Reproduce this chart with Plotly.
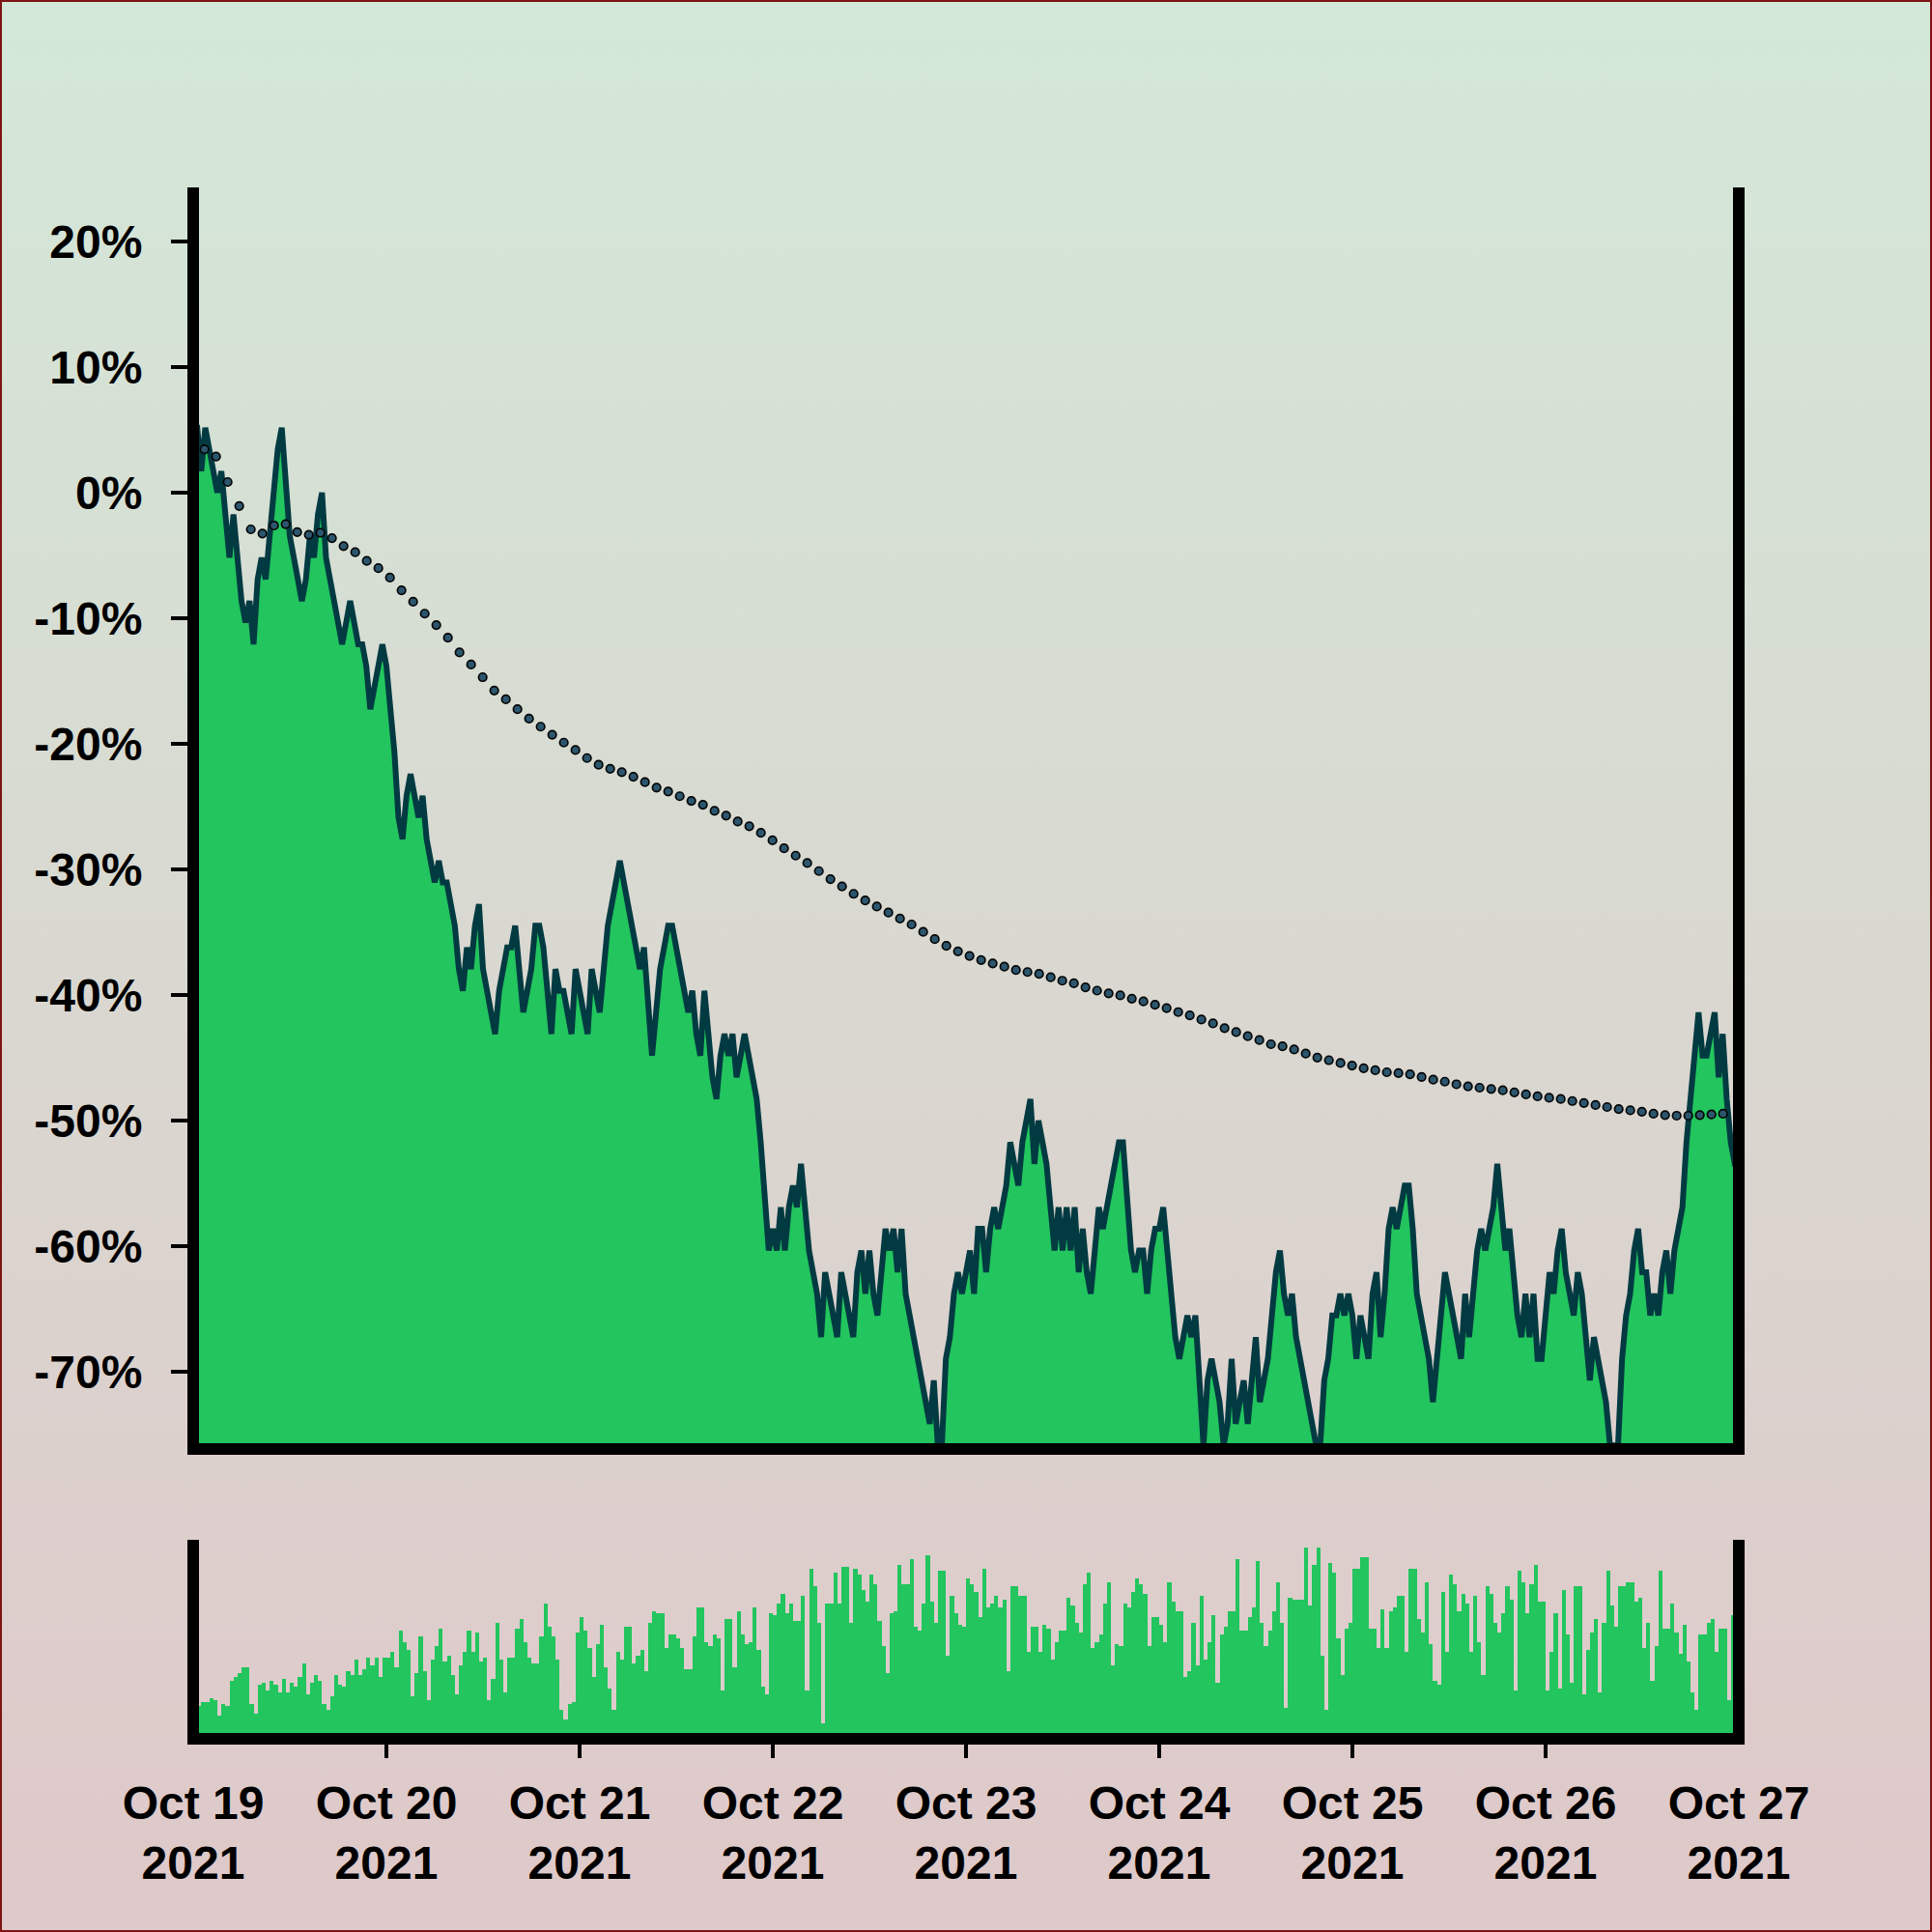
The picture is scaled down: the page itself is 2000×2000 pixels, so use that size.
import base64
import pandas as pd
import plotly.graph_objects as go

# ---------------- data ----------------
PRICE_START = "2021-10-19 00:00"
PRICE_STEP = "30min"
# price change in % at every half hour, Oct 19 00:00 -> Oct 27 00:00
PRICE_PCT = [
    5.17, 5.17, 1.72, 5.17, 3.45, 1.72, 0.0, 1.72, -1.72, -5.17, -1.72, -5.17, -8.62, -10.34, -8.62, -12.07,
    -6.90, -5.17, -6.90, -3.45, 0.0, 3.45, 5.17, 0.0, -3.45, -5.17, -6.90, -8.62, -6.90, -3.45, -5.17, -1.72,
    0.0, -5.17, -6.90, -8.62, -10.34, -12.07, -10.34, -8.62, -10.34, -12.07, -12.07, -13.79, -17.24, -15.52, -13.79, -12.07,
    -13.79, -17.24, -20.69, -25.86, -27.59, -24.14, -22.41, -24.14, -25.86, -24.14, -27.59, -29.31, -31.03, -29.31, -31.03, -31.03,
    -32.76, -34.48, -37.93, -39.66, -36.21, -37.93, -34.48, -32.76, -37.93, -39.66, -41.38, -43.10, -39.66, -37.93, -36.21, -36.21,
    -34.48, -37.93, -41.38, -39.66, -37.93, -34.48, -34.48, -36.21, -39.66, -43.10, -37.93, -39.66, -39.66, -41.38, -43.10, -37.93,
    -39.66, -41.38, -43.10, -37.93, -39.66, -41.38, -37.93, -34.48, -32.76, -31.03, -29.31, -31.03, -32.76, -34.48, -36.21, -37.93,
    -36.21, -41.38, -44.83, -41.38, -37.93, -36.21, -34.48, -34.48, -36.21, -37.93, -39.66, -41.38, -39.66, -43.10, -44.83, -39.66,
    -43.10, -46.55, -48.28, -44.83, -43.10, -44.83, -43.10, -46.55, -44.83, -43.10, -44.83, -46.55, -48.28, -51.72, -56.90, -60.34,
    -58.62, -60.34, -56.90, -60.34, -56.90, -55.17, -56.90, -53.45, -56.90, -60.34, -62.07, -63.79, -67.24, -62.07, -63.79, -65.52,
    -67.24, -62.07, -63.79, -65.52, -67.24, -62.07, -60.34, -63.79, -60.34, -63.79, -65.52, -62.07, -58.62, -60.34, -58.62, -62.07,
    -58.62, -63.79, -65.52, -67.24, -68.97, -70.69, -72.41, -74.14, -70.69, -75.86, -75.86, -68.97, -67.24, -63.79, -62.07, -63.79,
    -62.07, -60.34, -63.79, -58.62, -58.62, -62.07, -58.62, -56.90, -58.62, -56.90, -55.17, -51.72, -53.45, -55.17, -51.72, -50.0,
    -48.28, -53.45, -50.0, -51.72, -53.45, -56.90, -60.34, -56.90, -60.34, -56.90, -60.34, -56.90, -62.07, -58.62, -62.07, -63.79,
    -60.34, -56.90, -58.62, -56.90, -55.17, -53.45, -51.72, -51.72, -56.90, -60.34, -62.07, -60.34, -60.34, -63.79, -60.34, -58.62,
    -58.62, -56.90, -60.34, -63.79, -67.24, -68.97, -67.24, -65.52, -67.24, -65.52, -70.69, -75.86, -70.69, -68.97, -70.69, -72.41,
    -75.86, -74.14, -68.97, -74.14, -72.41, -70.69, -74.14, -70.69, -67.24, -72.41, -70.69, -68.97, -65.52, -62.07, -60.34, -63.79,
    -65.52, -63.79, -67.24, -68.97, -70.69, -72.41, -74.14, -75.86, -75.86, -70.69, -68.97, -65.52, -65.52, -63.79, -65.52, -63.79,
    -65.52, -68.97, -65.52, -67.24, -68.97, -63.79, -62.07, -67.24, -63.79, -58.62, -56.90, -58.62, -56.90, -55.17, -55.17, -58.62,
    -63.79, -65.52, -67.24, -68.97, -72.41, -68.97, -65.52, -62.07, -63.79, -65.52, -67.24, -68.97, -63.79, -67.24, -63.79, -60.34,
    -58.62, -60.34, -58.62, -56.90, -53.45, -56.90, -60.34, -58.62, -62.07, -65.52, -67.24, -63.79, -67.24, -63.79, -68.97, -68.97,
    -65.52, -62.07, -63.79, -60.34, -58.62, -62.07, -63.79, -65.52, -62.07, -63.79, -67.24, -70.69, -67.24, -68.97, -70.69, -72.41,
    -75.86, -75.86, -75.86, -68.97, -65.52, -63.79, -60.34, -58.62, -62.07, -62.07, -65.52, -63.79, -65.52, -62.07, -60.34, -63.79,
    -60.34, -58.62, -56.90, -51.72, -48.28, -44.83, -41.38, -44.83, -44.83, -43.10, -41.38, -46.55, -43.10, -48.28, -51.72, -53.45,
    -53.45,
]

# smoothed trend (dotted line)
MA_START = "2021-10-19 01:24"
MA_STEP = "5184s"
MA_PCT = [
    3.46, 2.88, 0.85, -1.06, -2.92, -3.25, -2.61, -2.5, -3.14, -3.35, -3.19, -3.62, -4.25, -4.74, -5.43, -6.01,
    -6.76, -7.77, -8.68, -9.63, -10.54, -11.55, -12.72, -13.68, -14.69, -15.75, -16.45, -17.24, -17.99, -18.63, -19.27, -19.9,
    -20.49, -21.13, -21.66, -21.98, -22.25, -22.62, -23.05, -23.48, -23.79, -24.17, -24.54, -24.85, -25.34, -25.71, -26.18, -26.56,
    -27.09, -27.68, -28.32, -28.9, -29.49, -30.13, -30.77, -31.35, -31.94, -32.47, -32.95, -33.43, -33.91, -34.38, -34.97, -35.55,
    -36.09, -36.52, -36.89, -37.21, -37.48, -37.74, -38.01, -38.17, -38.32, -38.59, -38.86, -39.07, -39.39, -39.65, -39.87, -40.03,
    -40.29, -40.51, -40.78, -41.04, -41.36, -41.62, -41.95, -42.26, -42.64, -42.95, -43.28, -43.59, -43.92, -44.08, -44.34, -44.66,
    -44.98, -45.19, -45.41, -45.62, -45.83, -45.99, -46.15, -46.21, -46.31, -46.52, -46.74, -46.9, -47.11, -47.27, -47.38, -47.48,
    -47.59, -47.75, -47.91, -48.07, -48.18, -48.28, -48.44, -48.6, -48.76, -48.92, -49.08, -49.18, -49.29, -49.45, -49.56, -49.61,
    -49.61, -49.56, -49.51, -49.45,
]

# traded volume per half hour (relative units)
VOLUME_START = "2021-10-19 00:15"
VOLUME = [
    16, 17, 19, 19, 21, 20, 12, 18, 17, 30, 32, 34, 37, 37, 18, 13, 28, 29, 25, 30, 28, 24, 31, 24,
    29, 27, 32, 39, 23, 29, 33, 30, 18, 15, 22, 33, 28, 27, 35, 33, 41, 33, 36, 42, 38, 42, 32, 42,
    42, 45, 37, 56, 50, 46, 22, 34, 53, 35, 20, 41, 48, 57, 40, 43, 33, 23, 38, 45, 56, 45, 55, 40,
    42, 20, 31, 60, 41, 24, 42, 42, 57, 62, 50, 42, 39, 39, 53, 70, 58, 53, 41, 15, 10, 18, 19, 55,
    63, 56, 47, 32, 49, 59, 37, 26, 15, 45, 41, 58, 58, 39, 43, 46, 35, 60, 66, 65, 65, 47, 54, 54,
    52, 47, 36, 36, 53, 68, 68, 50, 48, 54, 52, 25, 62, 62, 37, 66, 54, 49, 50, 68, 46, 27, 23, 65,
    64, 70, 75, 65, 70, 61, 61, 74, 25, 88, 79, 60, 8, 70, 70, 86, 70, 89, 89, 60, 88, 85, 77, 71,
    85, 80, 61, 48, 34, 65, 66, 90, 80, 80, 93, 58, 56, 70, 95, 71, 60, 87, 87, 43, 74, 65, 59, 58,
    83, 80, 76, 63, 88, 68, 70, 74, 68, 72, 35, 79, 79, 74, 74, 45, 58, 58, 45, 59, 57, 41, 50, 56,
    56, 73, 69, 60, 55, 80, 86, 47, 50, 54, 70, 81, 38, 49, 48, 70, 68, 76, 83, 80, 75, 48, 63, 63,
    59, 50, 81, 71, 66, 66, 32, 35, 60, 38, 74, 41, 50, 64, 29, 54, 58, 66, 66, 93, 56, 56, 63, 68,
    92, 60, 48, 56, 66, 81, 60, 16, 73, 72, 72, 72, 99, 69, 90, 99, 43, 15, 91, 86, 52, 33, 57, 60,
    88, 88, 94, 94, 57, 57, 47, 67, 47, 66, 68, 74, 74, 45, 88, 88, 62, 55, 81, 49, 30, 28, 76, 45,
    85, 80, 66, 75, 70, 45, 74, 50, 33, 79, 75, 60, 55, 65, 79, 72, 25, 87, 81, 65, 80, 90, 71, 71,
    25, 45, 65, 26, 77, 54, 29, 79, 79, 23, 46, 55, 62, 24, 60, 87, 69, 58, 79, 79, 81, 81, 71, 73,
    47, 60, 30, 48, 87, 57, 57, 70, 55, 44, 59, 40, 24, 15, 54, 54, 60, 62, 45, 57, 57, 20, 64, 60,
]

Y_TICK_VALUES = [20, 10, 0, -10, -20, -30, -40, -50, -60, -70]
Y_TICK_TEXT = ["20%", "10%", "0%", "-10%", "-20%", "-30%", "-40%", "-50%", "-60%", "-70%"]
X_TICK_DATES = ["2021-10-19", "2021-10-20", "2021-10-21", "2021-10-22", "2021-10-23",
                "2021-10-24", "2021-10-25", "2021-10-26", "2021-10-27"]
X_TICK_TEXT = ["Oct 19<br>2021", "Oct 20<br>2021", "Oct 21<br>2021", "Oct 22<br>2021",
               "Oct 23<br>2021", "Oct 24<br>2021", "Oct 25<br>2021", "Oct 26<br>2021",
               "Oct 27<br>2021"]
X_RANGE = ["2021-10-19 00:00", "2021-10-27 00:00"]
Y_RANGE = [-76.15, 23.85]
VOLUME_RANGE = [0, 100]

# ---------------- styling ----------------
GREEN = "#22c55e"
LINE_DARK = "#023a42"
MARKER_FILL = "#2c566e"
FONT = "Liberation Sans, Arial, Helvetica, sans-serif"
TICK_FONT = dict(family=FONT, size=48, color="black", weight="bold")
W = H = 2000
ML, MR, MT, MB = 200, 200, 200, 200
PW, PH = W - ML - MR, H - MT - MB
MAIN_DOMAIN = [0.1875, 1.0]
VOL_DOMAIN = [0.0, 0.125]
AXIS_W = 12

price_x = pd.date_range(PRICE_START, periods=len(PRICE_PCT), freq=PRICE_STEP)
ma_x = pd.date_range(MA_START, periods=len(MA_PCT), freq=MA_STEP)
vol_x = pd.date_range(VOLUME_START, periods=len(VOLUME), freq=PRICE_STEP)

fig = go.Figure()
# baseline below the visible range so the area fills down to the axis
fig.add_trace(go.Scatter(x=price_x, y=[Y_RANGE[0] - 10] * len(price_x), mode="lines",
                         line=dict(width=0, color=GREEN), hoverinfo="skip",
                         showlegend=False, xaxis="x", yaxis="y"))
fig.add_trace(go.Scatter(x=price_x, y=PRICE_PCT, mode="lines", fill="tonexty",
                         fillcolor=GREEN, line=dict(color=LINE_DARK, width=6),
                         showlegend=False, xaxis="x", yaxis="y"))
fig.add_trace(go.Scatter(x=ma_x, y=MA_PCT, mode="markers",
                         marker=dict(size=8.5, color=MARKER_FILL,
                                     line=dict(color="#050505", width=1.7)),
                         showlegend=False, xaxis="x", yaxis="y"))
fig.add_trace(go.Bar(x=vol_x, y=VOLUME, width=30 * 60 * 1000,
                     marker=dict(color=GREEN, line=dict(width=0)),
                     showlegend=False, xaxis="x2", yaxis="y2"))

# background gradient as an svg image covering the whole page
svg = ("<svg xmlns='http://www.w3.org/2000/svg' width='2000' height='2000'>"
       "<defs><linearGradient id='g' x1='0' y1='0' x2='0' y2='1'>"
       "<stop offset='0' stop-color='#d3e8d8'/><stop offset='1' stop-color='#dfc8c9'/>"
       "</linearGradient></defs><rect width='2000' height='2000' fill='url(#g)'/></svg>")
bg_uri = "data:image/svg+xml;base64," + base64.b64encode(svg.encode()).decode()


def px_x(p):
    return (p - ML) / PW


def px_y(p):
    return (H - MB - p) / PH


images = [dict(source=bg_uri, xref="paper", yref="paper", x=px_x(0), y=px_y(0),
               sizex=W / PW, sizey=H / PH, xanchor="left", yanchor="top",
               sizing="stretch", layer="below")]

half = AXIS_W / 2


def frame(y_bottom_px, y_top_px):
    line = dict(color="black", width=AXIS_W)
    return [
        dict(type="line", xref="paper", yref="paper", x0=px_x(ML), x1=px_x(ML),
             y0=px_y(y_bottom_px + half), y1=px_y(y_top_px - half), line=line, layer="above"),
        dict(type="line", xref="paper", yref="paper", x0=px_x(W - MR), x1=px_x(W - MR),
             y0=px_y(y_bottom_px + half), y1=px_y(y_top_px - half), line=line, layer="above"),
        dict(type="line", xref="paper", yref="paper", x0=px_x(ML - half), x1=px_x(W - MR + half),
             y0=px_y(y_bottom_px), y1=px_y(y_bottom_px), line=line, layer="above"),
    ]


main_bottom = H - MB - MAIN_DOMAIN[0] * PH
main_top = H - MB - MAIN_DOMAIN[1] * PH
vol_bottom = H - MB - VOL_DOMAIN[0] * PH
vol_top = H - MB - VOL_DOMAIN[1] * PH
shapes = frame(main_bottom, main_top) + frame(vol_bottom, vol_top)
# date ticks below the volume panel (the end ticks are hidden by the frame corners)
for d in X_TICK_DATES[1:-1]:
    shapes.append(dict(type="line", xref="x2", yref="paper", x0=d, x1=d,
                       y0=px_y(vol_bottom), y1=px_y(vol_bottom + 20),
                       line=dict(color="black", width=4), layer="above"))
shapes.append(dict(type="rect", xref="paper", yref="paper", x0=px_x(1), x1=px_x(W - 1),
                   y0=px_y(H - 1), y1=px_y(1), line=dict(color="#7d1414", width=2),
                   fillcolor="rgba(0,0,0,0)", layer="above"))

fig.update_layout(
    width=W, height=H,
    margin=dict(l=ML, r=MR, t=MT, b=MB, pad=0),
    paper_bgcolor="#d9d7d0", plot_bgcolor="rgba(0,0,0,0)",
    font=dict(family=FONT, size=48, color="black", weight="bold"),
    showlegend=False, hovermode=False, bargap=0,
    images=images, shapes=shapes,
    xaxis=dict(domain=[0, 1], anchor="y", type="date", range=X_RANGE,
               showline=False, showticklabels=False, ticks="", showgrid=False, zeroline=False),
    xaxis2=dict(domain=[0, 1], anchor="y2", type="date", range=X_RANGE, matches="x",
                showline=False, showgrid=False, zeroline=False,
                tickmode="array", tickvals=X_TICK_DATES, ticktext=X_TICK_TEXT,
                ticks="", ticklabelstandoff=34, tickfont=TICK_FONT),
    yaxis=dict(domain=MAIN_DOMAIN, anchor="x", range=Y_RANGE,
               tickmode="array", tickvals=Y_TICK_VALUES, ticktext=Y_TICK_TEXT,
               ticks="outside", ticklen=22, tickwidth=4, tickcolor="black",
               ticklabelstandoff=20,
               showline=False, showgrid=False, zeroline=False, tickfont=TICK_FONT),
    yaxis2=dict(domain=VOL_DOMAIN, anchor="x2", range=VOLUME_RANGE,
                showticklabels=False, ticks="", showline=False, showgrid=False, zeroline=False),
)

fig.write_html(
    "out.html",
    config={"displayModeBar": False},
    post_script="document.body.style.margin='0';document.body.style.padding='0';",
)
